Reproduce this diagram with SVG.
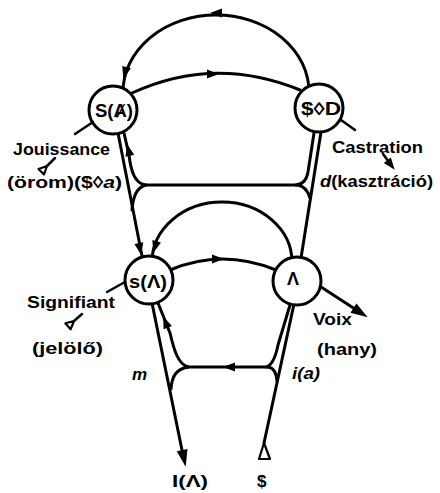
<svg xmlns="http://www.w3.org/2000/svg" width="440" height="493" viewBox="0 0 440 493">
<style>
.ln{fill:none;stroke:#000;stroke-width:3;stroke-linecap:round;stroke-linejoin:round}
.tk{fill:none;stroke:#000;stroke-width:2.5;stroke-linecap:round}
.nd{fill:#fff;stroke:#000;stroke-width:3}
.t{font-family:"Liberation Sans","DejaVu Sans",sans-serif;font-weight:bold;font-size:17px;fill:#000}
.nl{font-family:"Liberation Sans","DejaVu Sans",sans-serif;font-weight:bold;font-size:18px;fill:#000;text-anchor:middle}
.i{font-style:italic}
.ot{fill:#fff;stroke:#000;stroke-width:2.2;stroke-linejoin:round}
</style>
<defs>
<path id="ah" d="M6,0 L-6,-4.5 L-6,4.5 Z"/>
<path id="ahL" d="M8,0 L-9,-5.5 L-9,5.5 Z"/>
</defs>
<g id="connectors">
<path class="ln" d="M309,92 A93,77 0 0 0 123,92"/>
<path class="ln" d="M132,93 Q215,55 300,90"/>
<path class="ln" d="M118,133 L142,256"/>
<path class="ln" d="M145,185 C135,183 131,172 129,155 L124,133"/>
<path class="ln" d="M146,185 C137,187 133,196 132,210"/>
<path class="ln" d="M145,185 L298,185"/>
<path class="ln" d="M321,132 L301,258"/>
<path class="ln" d="M314,133 L308,172 Q306,184 296,185"/>
<path class="ln" d="M298,185 Q307,187 310,198"/>
<path class="ln" d="M292,262 A70,60 0 0 0 152,262"/>
<path class="ln" d="M170,270 Q222,248 276,270"/>
<path class="ln" d="M152,303 L183,455"/>
<path class="ln" d="M188,367 C178,364 174,350 170,333 L158,303"/>
<path class="ln" d="M188,367 C177,369 172,375 171,389"/>
<path class="ln" d="M186,367 L268,367"/>
<path class="ln" d="M290,305 L278,345 Q274,365 266,367"/>
<path class="ln" d="M268,367 Q276,368 277,381"/>
<path class="ln" d="M294,304 L264,443"/>
<polygon class="ot" points="264,443 259,459 270,459"/>
<path class="ln" d="M318,285 L358,311"/>
<use href="#ah" transform="translate(216,13) rotate(180)"/>
<use href="#ah" transform="translate(125,73) rotate(105)"/>
<use href="#ah" transform="translate(213,74)"/>
<use href="#ah" transform="translate(128.5,150) rotate(-103)"/>
<use href="#ah" transform="translate(140,249) rotate(79)"/>
<use href="#ah" transform="translate(155,247) rotate(106)"/>
<use href="#ah" transform="translate(218,259)"/>
<use href="#ah" transform="translate(165.5,322) rotate(-112)"/>
<use href="#ah" transform="translate(229,367) rotate(180)"/>
<use href="#ahL" transform="translate(184,459) rotate(78)"/>
<use href="#ahL" transform="translate(361,313) rotate(33)"/>
</g>
<g id="node-SA">
<circle class="nd" cx="113" cy="110" r="24"/>
<text class="nl" x="114" y="117" textLength="38" lengthAdjust="spacingAndGlyphs">S(Ⱥ)</text>
</g>
<g id="node-SD">
<circle class="nd" cx="319" cy="108" r="24"/>
<text class="nl" x="321" y="115" textLength="40" lengthAdjust="spacingAndGlyphs">$◊D</text>
</g>
<g id="node-sA">
<circle class="nd" cx="149" cy="280" r="24"/>
<text class="nl" x="148" y="288" textLength="38" lengthAdjust="spacingAndGlyphs">s(Λ)</text>
</g>
<g id="node-A">
<circle class="nd" cx="297" cy="281" r="24"/>
<text class="nl" x="293" y="285" font-size="15">Λ</text>
</g>
<g id="label-jouissance">
<path class="tk" d="M93,122 L75,134"/>
<text class="t" x="13" y="155" textLength="97" lengthAdjust="spacingAndGlyphs">Jouissance</text>
<path class="tk" d="M55,158 L47,166"/>
<polygon class="ot" points="47,166 44,174.5 38.5,169"/>
<text class="t" x="7" y="188" textLength="115" lengthAdjust="spacingAndGlyphs">(örom)($◊<tspan class="i">a</tspan>)</text>
</g>
<g id="label-castration">
<path class="tk" d="M341,120 L355,130"/>
<text class="t" x="332" y="153" textLength="91" lengthAdjust="spacingAndGlyphs">Castration</text>
<path class="tk" d="M383,154 L389,162"/>
<use href="#ah" transform="translate(391,165) rotate(52)"/>
<text class="t" x="320" y="187" textLength="113" lengthAdjust="spacingAndGlyphs"><tspan class="i">d</tspan>(kasztráció)</text>
</g>
<g id="label-signifiant">
<path class="tk" d="M107,292 L125,282"/>
<text class="t" x="27" y="308" textLength="88" lengthAdjust="spacingAndGlyphs">Signifiant</text>
<path class="tk" d="M82,314 L74,321"/>
<polygon class="ot" points="74,321 70.6,329.3 65.4,323.3"/>
<text class="t" x="32" y="354" textLength="71" lengthAdjust="spacingAndGlyphs">(jelölő)</text>
</g>
<g id="label-voix">
<text class="t" x="313" y="325" textLength="39" lengthAdjust="spacingAndGlyphs">Voix</text>
<text class="t" x="317" y="355" textLength="60" lengthAdjust="spacingAndGlyphs">(hany)</text>
</g>
<g id="label-m"><text class="t i" x="132" y="380">m</text></g>
<g id="label-ia"><text class="t i" x="292" y="379" textLength="28" lengthAdjust="spacingAndGlyphs">i(a)</text></g>
<g id="label-IA"><text class="t" x="172" y="487" font-size="16" textLength="36" lengthAdjust="spacingAndGlyphs">I(Λ)</text></g>
<g id="label-S"><text class="t" x="257" y="487" font-size="16">$</text></g>
</svg>
